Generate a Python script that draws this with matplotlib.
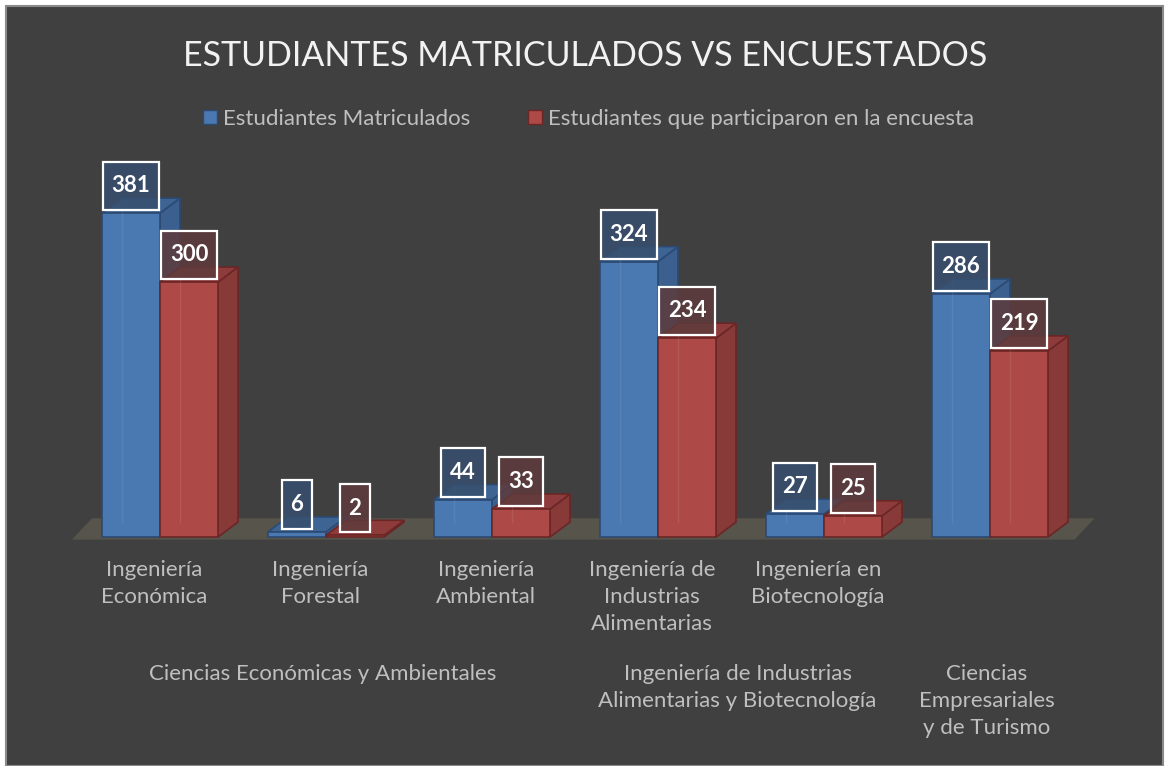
import matplotlib.pyplot as plt
from matplotlib.patches import Polygon, Rectangle, Patch
from matplotlib.path import Path
from matplotlib import transforms

carreras = ["Ingeniería\nEconómica", "Ingeniería\nForestal", "Ingeniería\nAmbiental",
            "Ingeniería de\nIndustrias\nAlimentarias", "Ingeniería en\nBiotecnología", ""]
facultades = ["Ciencias Económicas y Ambientales",
              "Ingeniería de Industrias\nAlimentarias y Biotecnología",
              "Ciencias\nEmpresariales\ny de Turismo"]
facultad_idx = [[0, 1, 2], [3, 4], [5]]
series = ["Estudiantes Matriculados", "Estudiantes que participaron en la encuesta"]
matriculados = [381, 6, 44, 324, 27, 286]
encuestados = [300, 2, 33, 234, 25, 219]

plt.rcParams['font.family'] = ['Lato', 'DejaVu Sans']

W, H = 1165, 766
fig = plt.figure(figsize=(W / 100, H / 100), dpi=100)
fig.patch.set_facecolor('white')
fig.patches.append(Rectangle((6 / W, 0), 1157 / W, 760 / H, transform=fig.transFigure,
                             fc='#404040', ec='#8a8a8a', lw=1.5, zorder=-10))

# axes placed so that category i sits at pixel 160 + 166*i, baseline at pixel 537
ax = fig.add_axes([60 / W, 1 - 560 / H, 1050 / W, 430 / H])
ax.set_xlim(-100 / 166, 950 / 166)
ax.set_ylim(-23 / 0.85, 407 / 0.85)
ax.axis('off')

bw = 0.35          # bar width (category units)
ddx, ddy = 0.12, 17.6   # depth offset

colores = [dict(front='#4a78b0', side='#3b5f8e', top='#3e6494', edge='#2c4a72',
                lab=(0.22, 0.31, 0.43, 0.85)),
           dict(front='#ad4a48', side='#883a39', top='#8e3c3b', edge='#6b2626',
                lab=(0.37, 0.23, 0.24, 0.85))]

# floor
ax.add_patch(Polygon([(-0.53, -3), (5.51, -3), (5.51 + ddx, 22), (-0.53 + ddx, 22)],
                     closed=True, fc='#57544b', ec='none', zorder=0))


def caja(x0, y0, width, height, mutation_size):
    # rectangular label box, taller padding than wide
    px, py = 0.4 * mutation_size, 0.62 * mutation_size
    x0, y0 = x0 - px, y0 - py
    x1, y1 = x0 + width + 2 * px, y0 + height + 2 * py
    return Path([(x0, y0), (x1, y0), (x1, y1), (x0, y1), (x0, y0)],
                [Path.MOVETO, Path.LINETO, Path.LINETO, Path.LINETO, Path.CLOSEPOLY])


def barra(x0, h, c, z):
    ax.add_patch(Polygon([(x0 + bw, 0), (x0 + bw + ddx, ddy), (x0 + bw + ddx, h + ddy), (x0 + bw, h)],
                         fc=c['side'], ec=c['edge'], lw=1.2, zorder=z))
    ax.add_patch(Polygon([(x0, h), (x0 + bw, h), (x0 + bw + ddx, h + ddy), (x0 + ddx, h + ddy)],
                         fc=c['top'], ec=c['edge'], lw=1.2, zorder=z))
    ax.add_patch(Polygon([(x0, 0), (x0 + bw, 0), (x0 + bw, h), (x0, h)],
                         fc=c['front'], ec=c['edge'], lw=1.2, zorder=z))
    # faint back edges seen through the glassy bar
    ax.plot([x0 + ddx, x0 + ddx], [ddy, h + ddy], color='white', alpha=0.08, lw=1, zorder=z)


for i in range(len(matriculados)):
    for s, vals in enumerate([matriculados, encuestados]):
        x0 = i - bw + s * bw
        barra(x0, vals[i], colores[s], 2 + i * 2 + s * 0.5)

for i in range(len(matriculados)):
    for s, vals in enumerate([matriculados, encuestados]):
        x0 = i - bw + s * bw
        ax.text(x0 + bw / 2, vals[i] + 32, str(vals[i]), ha='center', va='center',
                fontsize=16, fontweight='bold', color='white', zorder=50,
                bbox=dict(boxstyle=caja, fc=colores[s]['lab'], ec='white', lw=1.6))

tr = transforms.blended_transform_factory(ax.transData, fig.transFigure)
for i, nombre in enumerate(carreras):
    ax.text(i - 0.035, 1 - 560 / H, nombre, transform=tr, ha='center', va='top',
            fontsize=16, color='#bfbfbf', linespacing=1.45)
for nombre, idx in zip(facultades, facultad_idx):
    xc = sum(idx) / len(idx)
    ax.text(xc - 0.02, 1 - 664 / H, nombre, transform=tr, ha='center', va='top',
            fontsize=16, color='#bfbfbf', linespacing=1.45)

fig.text(585 / W, 1 - 56 / H, "ESTUDIANTES MATRICULADOS VS ENCUESTADOS", ha='center', va='center',
         fontsize=24.5, color='#f2f2f2')

handles = [Patch(fc=colores[0]['front'], ec=colores[0]['edge']),
           Patch(fc=colores[1]['front'], ec=colores[1]['edge'])]
fig.legend(handles, series, loc='center', bbox_to_anchor=(589 / W, 1 - 119 / H), ncol=2,
           frameon=False, fontsize=16, labelcolor='#bfbfbf', handlelength=0.6, handleheight=0.6,
           handletextpad=0.3, columnspacing=2.6)

fig.savefig('out.png', dpi=100, facecolor=fig.get_facecolor())
